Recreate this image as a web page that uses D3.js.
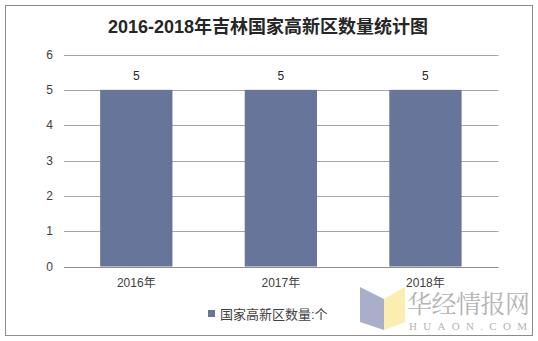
<!DOCTYPE html>
<html>
<head>
<meta charset="utf-8">
<script src="https://cdn.jsdelivr.net/npm/d3@7"></script>
<style>
  body { margin: 0; background: #fff; }
  svg { display: block; font-family: "Liberation Sans", Arial, "Noto Sans CJK SC", sans-serif; }
</style>
</head>
<body>
<div id="chart"></div>
<script>
const title = "2016-2018年吉林国家高新区数量统计图";
const categories = ["2016年", "2017年", "2018年"];
const values = [5, 5, 5];
const seriesName = "国家高新区数量:个";
const yTicks = [0, 1, 2, 3, 4, 5, 6];

const width = 538;
const height = 341;
const margin = { top: 54, right: 40, bottom: 75, left: 64 };

const svg = d3.select("#chart").append("svg")
  .attr("width", width)
  .attr("height", height);

// outer frame
svg.append("rect")
  .attr("x", 5.5).attr("y", 5.5)
  .attr("width", 527).attr("height", 330)
  .attr("fill", "#fff")
  .attr("stroke", "#8c8c8c");

svg.append("text")
  .attr("x", 268).attr("y", 33)
  .attr("text-anchor", "middle")
  .attr("font-size", 18)
  .attr("font-weight", "bold")
  .attr("fill", "#262626")
  .text(title);

const x = d3.scaleBand()
  .domain(categories)
  .range([margin.left, width - margin.right - 0.25])
  .paddingInner(0.5)
  .paddingOuter(0.25);

const y = d3.scaleLinear()
  .domain([0, 6])
  .range([266.5, 54.5]);

// gridlines
svg.append("g")
  .selectAll("line")
  .data(yTicks)
  .join("line")
  .attr("x1", margin.left)
  .attr("x2", 498.5)
  .attr("y1", d => Math.round(y(d)) + 0.5)
  .attr("y2", d => Math.round(y(d)) + 0.5)
  .attr("stroke", d => d === 0 ? "#8c8c8c" : "#a6a6a6")
  .attr("stroke-width", 1);

// y tick labels
svg.append("g")
  .selectAll("text")
  .data(yTicks)
  .join("text")
  .attr("x", 53)
  .attr("y", d => y(d) + 4)
  .attr("text-anchor", "end")
  .attr("font-size", 12)
  .attr("fill", "#404040")
  .text(d => d);

// bars
svg.append("g")
  .selectAll("rect")
  .data(values)
  .join("rect")
  .attr("x", (d, i) => x(categories[i]))
  .attr("y", d => y(d))
  .attr("width", x.bandwidth())
  .attr("height", d => y(0) - y(d))
  .attr("fill", "#67759a");

// value labels
svg.append("g")
  .selectAll("text")
  .data(values)
  .join("text")
  .attr("x", (d, i) => x(categories[i]) + x.bandwidth() / 2)
  .attr("y", d => y(d) - 10)
  .attr("text-anchor", "middle")
  .attr("font-size", 12)
  .attr("fill", "#262626")
  .text(d => d);

// category labels
svg.append("g")
  .selectAll("text")
  .data(categories)
  .join("text")
  .attr("x", d => x(d) + x.bandwidth() / 2)
  .attr("y", 287)
  .attr("text-anchor", "middle")
  .attr("font-size", 12)
  .attr("fill", "#404040")
  .text(d => d);

// legend
const legend = svg.append("g");
legend.append("rect")
  .attr("x", 208).attr("y", 310)
  .attr("width", 7).attr("height", 7)
  .attr("fill", "#67759a");
legend.append("text")
  .attr("x", 220).attr("y", 319)
  .attr("font-size", 13)
  .attr("fill", "#404040")
  .text(seriesName);

// watermark
const wm = svg.append("g");
wm.append("path")
  .attr("d", "M360,287 L384,299 L384,330 L360,322 Z")
  .attr("fill", "#a9aecb");
wm.append("path")
  .attr("d", "M384,299 L405,287 L405,322 L384,330 Z")
  .attr("fill", "#fbeeb0");
wm.append("text")
  .attr("x", 407).attr("y", 313)
  .attr("font-size", 25)
  .attr("font-family", "'Noto Serif CJK SC', 'Noto Sans CJK SC', serif")
  .attr("fill", "#b4b4b4")
  .attr("textLength", 123)
  .text("华经情报网");
wm.append("text")
  .attr("x", 409).attr("y", 330)
  .attr("font-size", 11)
  .attr("font-family", "'Liberation Serif', serif")
  .attr("fill", "#b4b4b4")
  .attr("textLength", 118)
  .text("HUAON.COM");
</script>
</body>
</html>
